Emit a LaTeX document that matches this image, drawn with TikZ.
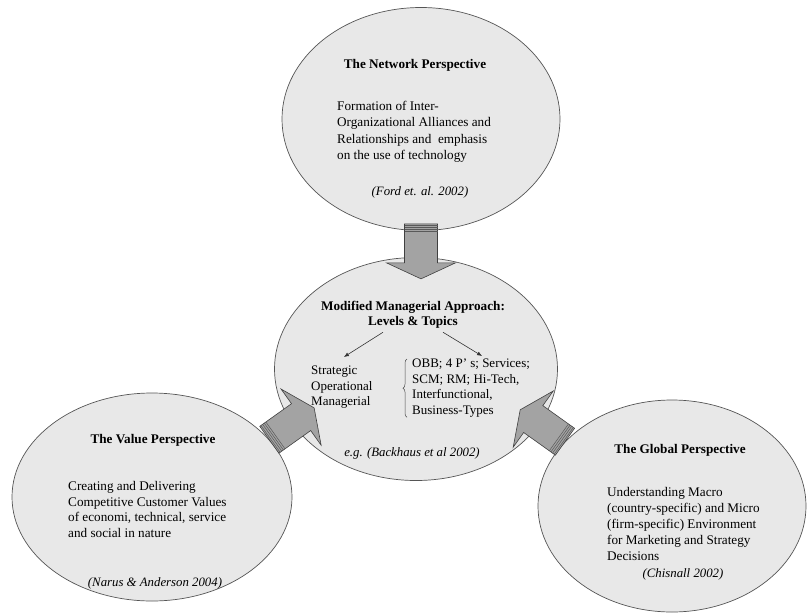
\documentclass[tikz,border=0pt]{standalone}
\usepackage{fontspec}
\setmainfont{Liberation Serif}
\usetikzlibrary{positioning,decorations.pathreplacing,arrows.meta,shapes.geometric}
\definecolor{bubblegray}{RGB}{232,232,232}
\definecolor{rimgray}{RGB}{85,85,85}
\definecolor{arrowgray}{RGB}{163,163,163}

% block arrow: tail point, direction
\newcommand{\blockarrow}[2]{%
  \begin{scope}[shift={#1}, rotate=#2]
    \filldraw[fill=arrowgray, draw=black!75, line width=0.6pt]
      (0,-16.5) -- (39,-16.5) -- (39,-34.5) -- (55,0) -- (39,34.5) -- (39,16.5) -- (0,16.5) -- cycle;
    \foreach \s in {1.5,3.5,5.5,7.5}
      \draw[black!65, line width=0.5pt] (\s,-16.5) -- (\s,16.5);
  \end{scope}}

\begin{document}
\begin{tikzpicture}[
      x=1pt, y=-1pt,
      bubble/.style={draw=rimgray, line width=0.7pt, fill=bubblegray, ellipse, inner sep=0pt},
      titletext/.style={font=\fontsize{13.2}{15}\selectfont\bfseries, inner sep=0pt, align=center},
      bodytext/.style={font=\fontsize{13.2}{16.3}\selectfont, inner sep=0pt, align=left, anchor=north west},
      citetext/.style={font=\fontsize{12.8}{15}\selectfont\itshape, inner sep=0pt},
      thinarrow/.style={draw=black!80, line width=0.6pt, -{Latex[length=5pt,width=4pt]}}
      ]
      \useasboundingbox (0,0) rectangle (807,614);

      % the four perspectives
      \node[bubble, minimum width=278pt, minimum height=223pt] (network) at (421,119) {};
      \node[bubble, minimum width=283pt, minimum height=223pt] (managerial) at (416,369) {};
      \node[bubble, minimum width=280pt, minimum height=208pt] (value) at (152,497) {};
      \node[bubble, minimum width=268pt, minimum height=212pt] (global) at (672,506) {};

      % The Network Perspective
      \node[titletext] (nettitle) at (415,65) {The Network Perspective};
      \node[bodytext] (nettext) at (337,101) {Formation of Inter-\\Organizational Alliances and\\Relationships and~ emphasis\\on the use of technology};
      \node[citetext] (netcite) at (420,192) {(Ford et. al. 2002)};

      % Modified Managerial Approach
      \node[titletext] (mmatitle) at (413,314.5) {Modified Managerial Approach:\\Levels \& Topics};
      \node[bodytext, font=\fontsize{13}{15.5}\selectfont] (levels) at (311,366) {Strategic\\Operational\\Managerial};
      \node[bodytext, font=\fontsize{13}{15.5}\selectfont] (topics) at (412,359) {OBB; 4 P' s; Services;\\SCM; RM; Hi-Tech,\\Interfunctional,\\Business-Types};
      \draw[black!70, line width=0.5pt, decorate, decoration={brace, amplitude=4pt}]
        ([xshift=-5pt]topics.south west) -- ([xshift=-5pt]topics.north west);
      \draw[thinarrow] ([xshift=-30pt,yshift=-4pt]mmatitle.south) -- ([xshift=2pt,yshift=9pt]levels.north);
      \draw[thinarrow] ([xshift=30pt,yshift=-4pt]mmatitle.south) -- ([xshift=11pt,yshift=3pt]topics.north);
      \node[citetext] (mmacite) at (412,453) {e.g. (Backhaus et al 2002)};

      % The Value Perspective
      \node[titletext] (valtitle) at (153,440) {The Value Perspective};
      \node[bodytext, font=\fontsize{13.2}{15.7}\selectfont] (valtext) at (68,481) {Creating and Delivering\\Competitive Customer Values\\of economi, technical, service\\and social in nature};
      \node[citetext] (valcite) at (155,583) {(Narus \& Anderson 2004)};

      % The Global Perspective
      \node[titletext] (globtitle) at (680,450) {The Global Perspective};
      \node[bodytext, font=\fontsize{13.2}{16}\selectfont] (globtext) at (607,487) {Understanding Macro\\(country-specific) and Micro\\(firm-specific) Environment\\for Marketing and Strategy\\Decisions};
      \node[citetext] (globcite) at (683,574) {(Chisnall 2002)};

      % block arrows into the centre
      \blockarrow{([yshift=7pt]network.south)}{-90}
      \blockarrow{(value.26)}{35.5}
      \blockarrow{(global.149)}{144.5}
\end{tikzpicture}
\end{document}
